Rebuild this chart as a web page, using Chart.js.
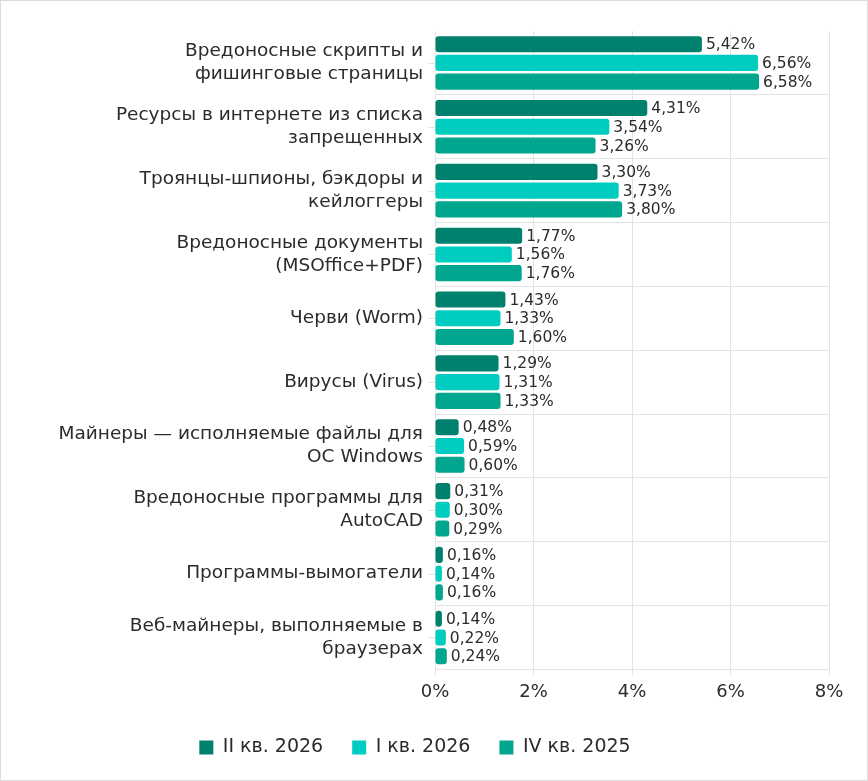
<!DOCTYPE html>
<html>
<head>
<meta charset="utf-8">
<title>Угрозы</title>
<script src="https://cdn.jsdelivr.net/npm/chart.js@4"></script>
<style>
  html, body { margin: 0; padding: 0; background: #fff; }
  #wrap {
    width: 866px; height: 779px;
    border: 1px solid #dcdcdc;
    position: relative;
  }
</style>
</head>
<body>
<div id="wrap"><canvas id="chart"></canvas></div>
<script>
// categories and series
const categories = [
  ['Вредоносные скрипты и', 'фишинговые страницы'],
  ['Ресурсы в интернете из списка', 'запрещенных'],
  ['Троянцы-шпионы, бэкдоры и', 'кейлоггеры'],
  ['Вредоносные документы', '(MSOffice+PDF)'],
  'Черви (Worm)',
  'Вирусы (Virus)',
  ['Майнеры — исполняемые файлы для', 'ОС Windows'],
  ['Вредоносные программы для', 'AutoCAD'],
  'Программы-вымогатели',
  ['Веб-майнеры, выполняемые в', 'браузерах']
];
const seriesNames = ['II кв. 2026', 'I кв. 2026', 'IV кв. 2025'];
const q2_2026 = [5.42, 4.31, 3.30, 1.77, 1.43, 1.29, 0.48, 0.31, 0.16, 0.14];
const q1_2026 = [6.56, 3.54, 3.73, 1.56, 1.33, 1.31, 0.59, 0.30, 0.14, 0.22];
const q4_2025 = [6.58, 3.26, 3.80, 1.76, 1.60, 1.33, 0.60, 0.29, 0.16, 0.24];
const xTicks = [0, 2, 4, 6, 8];

const colors = ['#00816d', '#00ccbf', '#00a68d'];
const textColor = '#2b2b2b';
const gridColor = '#e3e3e3';
const fontFamily = "'DejaVu Sans', sans-serif";

// value labels to the right of each bar, comma decimal
const valueLabels = {
  id: 'valueLabels',
  afterDatasetsDraw(chart) {
    const ctx = chart.ctx;
    ctx.save();
    ctx.font = '15.5px ' + fontFamily;
    ctx.fillStyle = textColor;
    ctx.textBaseline = 'middle';
    ctx.textAlign = 'left';
    chart.data.datasets.forEach((ds, i) => {
      chart.getDatasetMeta(i).data.forEach((bar, j) => {
        const txt = ds.data[j].toFixed(2).replace('.', ',') + '%';
        ctx.fillText(txt, Math.max(bar.x, bar.base + 6) + 4, bar.y + 1);
      });
    });
    ctx.restore();
  }
};

// short tick marks at category centres on the y axis
const yTickMarks = {
  id: 'yTickMarks',
  afterDraw(chart) {
    const y = chart.scales.y;
    const ctx = chart.ctx;
    ctx.save();
    ctx.strokeStyle = gridColor;
    ctx.lineWidth = 1;
    y.ticks.forEach((t, i) => {
      const py = Math.round(y.getPixelForTick(i)) + 0.5;
      ctx.beginPath();
      ctx.moveTo(y.right - 7, py);
      ctx.lineTo(y.right, py);
      ctx.stroke();
    });
    ctx.restore();
  }
};

new Chart(document.getElementById('chart'), {
  type: 'bar',
  data: {
    labels: categories,
    datasets: seriesNames.map((name, i) => ({
      label: name,
      data: [q2_2026, q1_2026, q4_2025][i],
      backgroundColor: colors[i],
      borderRadius: 3,
      borderSkipped: false,
      categoryPercentage: 0.88,
      barPercentage: 0.86,
      minBarLength: 6
    }))
  },
  options: {
    indexAxis: 'y',
    responsive: true,
    maintainAspectRatio: false,
    animation: false,
    layout: { padding: { top: 30, right: 38, bottom: 13, left: 0 } },
    scales: {
      x: {
        min: 0, max: 8,
        afterBuildTicks: (s) => { s.ticks = xTicks.map(v => ({ value: v })); },
        grid: { color: gridColor, tickLength: 6 },
        border: { color: gridColor },
        ticks: {
          color: textColor,
          font: { family: fontFamily, size: 18 },
          padding: 6,
          callback: (v) => v + '%'
        }
      },
      y: {
        afterFit: (s) => { s.width = 434; s.paddingTop = 0; s.paddingBottom = 0; },
        grid: {
          color: (c) => c.index === 0 ? 'rgba(0,0,0,0)' : gridColor,
          offset: true,
          drawTicks: false
        },
        border: { color: gridColor },
        ticks: {
          color: textColor,
          font: { family: fontFamily, size: 18.5, lineHeight: 1.22 },
          padding: 12
        }
      }
    },
    plugins: {
      legend: {
        position: 'bottom',
        labels: {
          color: textColor,
          font: { family: fontFamily, size: 19 },
          boxWidth: 14,
          boxHeight: 14,
          padding: 29
        }
      },
      tooltip: { enabled: false }
    }
  },
  plugins: [valueLabels, yTickMarks]
});
</script>
</body>
</html>
